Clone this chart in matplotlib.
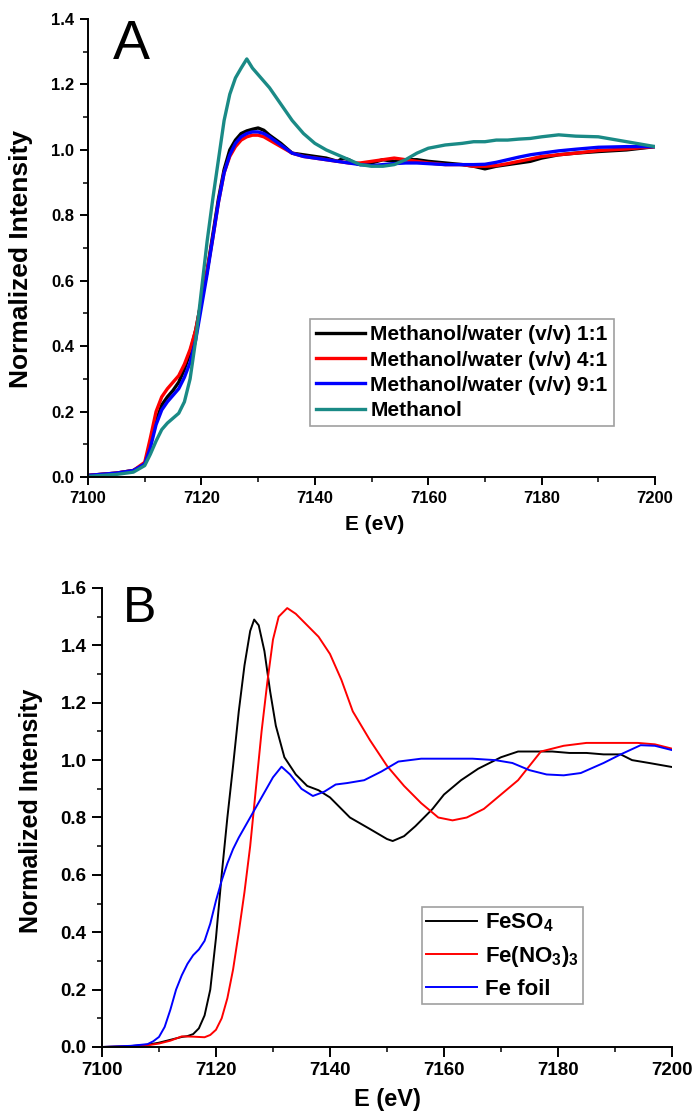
import matplotlib
matplotlib.use("Agg")
import matplotlib.pyplot as plt
from matplotlib.ticker import MultipleLocator, FormatStrFormatter

plt.rcParams['font.family'] = ['Liberation Sans', 'DejaVu Sans']
plt.rcParams['mathtext.fontset'] = 'custom'
plt.rcParams['mathtext.rm'] = 'Liberation Sans:bold'
plt.rcParams['mathtext.it'] = 'Liberation Sans:bold'
plt.rcParams['mathtext.bf'] = 'Liberation Sans:bold'
plt.rcParams['mathtext.default'] = 'rm'

# ---------------- Panel A data ----------------
a_e_mw11 = [7100, 7105, 7108, 7110, 7111, 7112, 7113, 7114, 7115, 7116, 7117, 7118, 7119, 7120, 7121, 7122, 7123, 7124, 7125, 7126, 7127, 7128, 7129, 7130, 7131, 7132, 7134, 7136, 7138, 7140, 7142, 7144, 7145, 7146, 7147, 7148, 7150, 7152, 7154, 7156, 7158, 7160, 7163, 7166, 7168, 7170, 7172, 7174, 7176, 7178, 7180, 7183, 7186, 7190, 7195, 7200]
a_mw11 = [0.005, 0.012, 0.02, 0.04, 0.10, 0.17, 0.22, 0.245, 0.265, 0.29, 0.33, 0.38, 0.45, 0.54, 0.63, 0.74, 0.85, 0.94, 1.0, 1.03, 1.05, 1.058, 1.063, 1.067, 1.06, 1.045, 1.02, 0.99, 0.985, 0.98, 0.975, 0.965, 0.975, 0.97, 0.96, 0.955, 0.96, 0.97, 0.965, 0.97, 0.97, 0.965, 0.96, 0.955, 0.95, 0.942, 0.95, 0.955, 0.96, 0.965, 0.975, 0.985, 0.99, 0.995, 1.0, 1.01]

a_e = [7100, 7105, 7108, 7110, 7111, 7112, 7113, 7114, 7115, 7116, 7117, 7118, 7119, 7120, 7121, 7122, 7123, 7124, 7125, 7126, 7127, 7128, 7129, 7130, 7131, 7132, 7134, 7136, 7138, 7140, 7142, 7144, 7146, 7148, 7150, 7152, 7154, 7156, 7158, 7160, 7163, 7166, 7168, 7170, 7172, 7174, 7176, 7178, 7180, 7183, 7186, 7190, 7195, 7200]
a_mw41 = [0.005, 0.012, 0.02, 0.045, 0.12, 0.20, 0.245, 0.27, 0.29, 0.31, 0.345, 0.39, 0.45, 0.54, 0.63, 0.73, 0.84, 0.93, 0.98, 1.01, 1.03, 1.04, 1.045, 1.045, 1.04, 1.03, 1.01, 0.99, 0.98, 0.975, 0.97, 0.965, 0.96, 0.96, 0.965, 0.97, 0.975, 0.97, 0.965, 0.96, 0.955, 0.955, 0.95, 0.95, 0.952, 0.958, 0.965, 0.972, 0.98, 0.985, 0.99, 0.998, 1.003, 1.01]
a_mw91 = [0.005, 0.012, 0.02, 0.04, 0.09, 0.16, 0.205, 0.23, 0.25, 0.27, 0.305, 0.35, 0.42, 0.52, 0.62, 0.73, 0.84, 0.93, 0.985, 1.02, 1.04, 1.05, 1.055, 1.055, 1.05, 1.04, 1.015, 0.99, 0.98, 0.975, 0.97, 0.965, 0.96, 0.955, 0.952, 0.955, 0.958, 0.96, 0.96, 0.958, 0.955, 0.955, 0.955, 0.956, 0.962, 0.97, 0.978, 0.985, 0.99, 0.997, 1.002, 1.008, 1.01, 1.01]
a_meoh = [0.002, 0.008, 0.015, 0.035, 0.07, 0.11, 0.145, 0.165, 0.18, 0.195, 0.23, 0.30, 0.42, 0.57, 0.72, 0.85, 0.97, 1.09, 1.17, 1.22, 1.25, 1.278, 1.25, 1.23, 1.21, 1.19, 1.14, 1.09, 1.05, 1.02, 1.0, 0.985, 0.97, 0.955, 0.95, 0.95, 0.955, 0.97, 0.99, 1.005, 1.015, 1.02, 1.025, 1.025, 1.03, 1.03, 1.033, 1.035, 1.04, 1.046, 1.042, 1.04, 1.025, 1.01]

a_labels = ['Methanol/water (v/v) 1:1', 'Methanol/water (v/v) 4:1',
            'Methanol/water (v/v) 9:1', 'Methanol']
a_colors = ['#000000', '#ff0000', '#0000ff', '#1a8a86']

# ---------------- Panel B data ----------------
b_e_feso4 = [7100, 7105, 7108, 7110, 7112, 7114, 7115, 7116, 7117, 7118, 7119, 7120, 7121, 7122, 7123, 7124, 7125, 7126, 7126.7, 7127.5, 7128.5, 7129.5, 7130.5, 7132, 7134, 7136, 7138, 7140, 7143.5, 7147, 7150, 7151, 7153, 7155, 7158, 7160, 7163, 7166, 7170, 7173, 7176, 7179, 7182, 7185, 7188, 7191, 7193, 7196, 7200]
b_feso4 = [0.0, 0.003, 0.008, 0.015, 0.025, 0.035, 0.038, 0.045, 0.065, 0.11, 0.2, 0.38, 0.6, 0.8, 0.98, 1.17, 1.33, 1.45, 1.49, 1.47, 1.38, 1.24, 1.12, 1.01, 0.95, 0.91, 0.895, 0.87, 0.8, 0.76, 0.725, 0.718, 0.735, 0.77, 0.83, 0.88, 0.93, 0.97, 1.01, 1.03, 1.03, 1.03, 1.025, 1.025, 1.02, 1.02, 1.0, 0.99, 0.976]

b_e_feno3 = [7100, 7105, 7108, 7110, 7112, 7114, 7116, 7118, 7119, 7120, 7121, 7122, 7123, 7124, 7125, 7126, 7127, 7128, 7129, 7130, 7131, 7132.5, 7134, 7136, 7138, 7140, 7142, 7144, 7147, 7150, 7153, 7156, 7159, 7161.5, 7164, 7167, 7170, 7173, 7177, 7181, 7185, 7190, 7194, 7197, 7200]
b_feno3 = [0.0, 0.002, 0.006, 0.012, 0.022, 0.037, 0.036, 0.034, 0.042, 0.06, 0.1, 0.17, 0.27, 0.4, 0.54, 0.7, 0.9, 1.1, 1.27, 1.42, 1.5, 1.53, 1.51, 1.47, 1.43, 1.37, 1.28, 1.17, 1.07, 0.98, 0.91, 0.85, 0.8, 0.79, 0.8, 0.83, 0.88, 0.93, 1.03, 1.05, 1.06, 1.06, 1.06, 1.055, 1.04]

b_e_fefoil = [7100, 7105, 7108, 7109, 7110, 7111, 7112, 7113, 7114, 7115, 7116, 7117, 7118, 7119, 7120, 7121, 7122, 7123, 7124, 7126, 7128, 7130, 7131.5, 7133, 7135, 7137, 7139, 7141, 7143, 7146, 7149, 7152, 7156, 7161, 7165, 7169, 7172, 7175, 7178, 7181, 7184, 7188, 7191, 7194.5, 7197, 7200]
b_fefoil = [0.0, 0.004, 0.01, 0.02, 0.035, 0.07, 0.13, 0.2, 0.25, 0.29, 0.32, 0.34, 0.37, 0.43, 0.51, 0.58, 0.64, 0.69, 0.73, 0.8, 0.87, 0.94, 0.977, 0.95, 0.9, 0.875, 0.89, 0.915, 0.92, 0.93, 0.96, 0.995, 1.005, 1.005, 1.005, 1.0, 0.99, 0.965, 0.95, 0.947, 0.955, 0.99, 1.02, 1.052, 1.05, 1.035]

b_labels = ['FeSO$_4$', 'Fe(NO$_3$)$_3$', 'Fe foil']
b_colors = ['#000000', '#ff0000', '#0000ff']

fig = plt.figure(figsize=(6.97, 11.13), dpi=100)
axA = fig.add_axes([0.1263, 0.5714, 0.8135, 0.4115])
axB = fig.add_axes([0.1463, 0.0593, 0.8178, 0.4124])


def style(ax, ymax, fs, majlen, pad):
    ax.set_xlim(7100, 7200)
    ax.set_ylim(0, ymax)
    ax.xaxis.set_major_locator(MultipleLocator(20))
    ax.xaxis.set_minor_locator(MultipleLocator(10))
    ax.yaxis.set_major_locator(MultipleLocator(0.2))
    ax.yaxis.set_minor_locator(MultipleLocator(0.1))
    for s in ['top', 'right']:
        ax.spines[s].set_visible(False)
    for s in ['left', 'bottom']:
        ax.spines[s].set_linewidth(1.4)
    ax.tick_params(which='major', direction='out', length=majlen, width=1.4,
                   labelsize=fs, pad=pad)
    ax.tick_params(which='minor', direction='out', length=majlen * 0.55, width=1.1)
    ax.yaxis.set_major_formatter(FormatStrFormatter('%.1f'))
    for lab in ax.get_xticklabels() + ax.get_yticklabels():
        lab.set_fontweight('bold')


# Panel A
series_a = [(a_e_mw11, a_mw11), (a_e, a_mw41), (a_e, a_mw91), (a_e, a_meoh)]
for (x, y), lab, c in zip(series_a, a_labels, a_colors):
    axA.plot(x, y, color=c, lw=2.4, label=lab)
style(axA, 1.4, 12, 6, 4)
axA.set_xlabel('E (eV)', fontsize=15, fontweight='bold')
axA.set_ylabel('Normalized Intensity', fontsize=19, fontweight='bold')
axA.xaxis.set_label_coords(0.505, -0.083)
axA.yaxis.set_label_coords(-0.097, 0.475)
axA.text(0.044, 1.0, 'A', transform=axA.transAxes, fontsize=40, va='top', ha='left')
legA = axA.legend(loc='upper left', bbox_to_anchor=(0.3915, 0.345), frameon=True,
                  fancybox=False, edgecolor='#888888', handlelength=2.35,
                  handletextpad=0.25, borderpad=0.3, labelspacing=0.3,
                  borderaxespad=0.0,
                  prop={'weight': 'bold', 'size': 15})
legA.get_frame().set_linewidth(1.2)

# Panel B
series_b = [(b_e_feso4, b_feso4), (b_e_feno3, b_feno3), (b_e_fefoil, b_fefoil)]
for (x, y), lab, c in zip(series_b, b_labels, b_colors):
    axB.plot(x, y, color=c, lw=1.4, label=lab)
style(axB, 1.6, 13.5, 7, 4)
axB.set_xlabel('E (eV)', fontsize=17, fontweight='bold')
axB.set_ylabel('Normalized Intensity', fontsize=18, fontweight='bold')
axB.xaxis.set_label_coords(0.5, -0.089)
axB.yaxis.set_label_coords(-0.1035, 0.515)
axB.text(0.037, 1.004, 'B', transform=axB.transAxes, fontsize=36, va='top', ha='left')
legB = axB.legend(loc='upper left', bbox_to_anchor=(0.561, 0.305), frameon=True,
                  fancybox=False, edgecolor='#888888', handlelength=2.3,
                  handletextpad=0.35, borderpad=0.2, labelspacing=0.45,
                  borderaxespad=0.0,
                  prop={'weight': 'bold', 'size': 16})
legB.get_frame().set_linewidth(1.2)

fig.savefig('out.png', dpi=100)
